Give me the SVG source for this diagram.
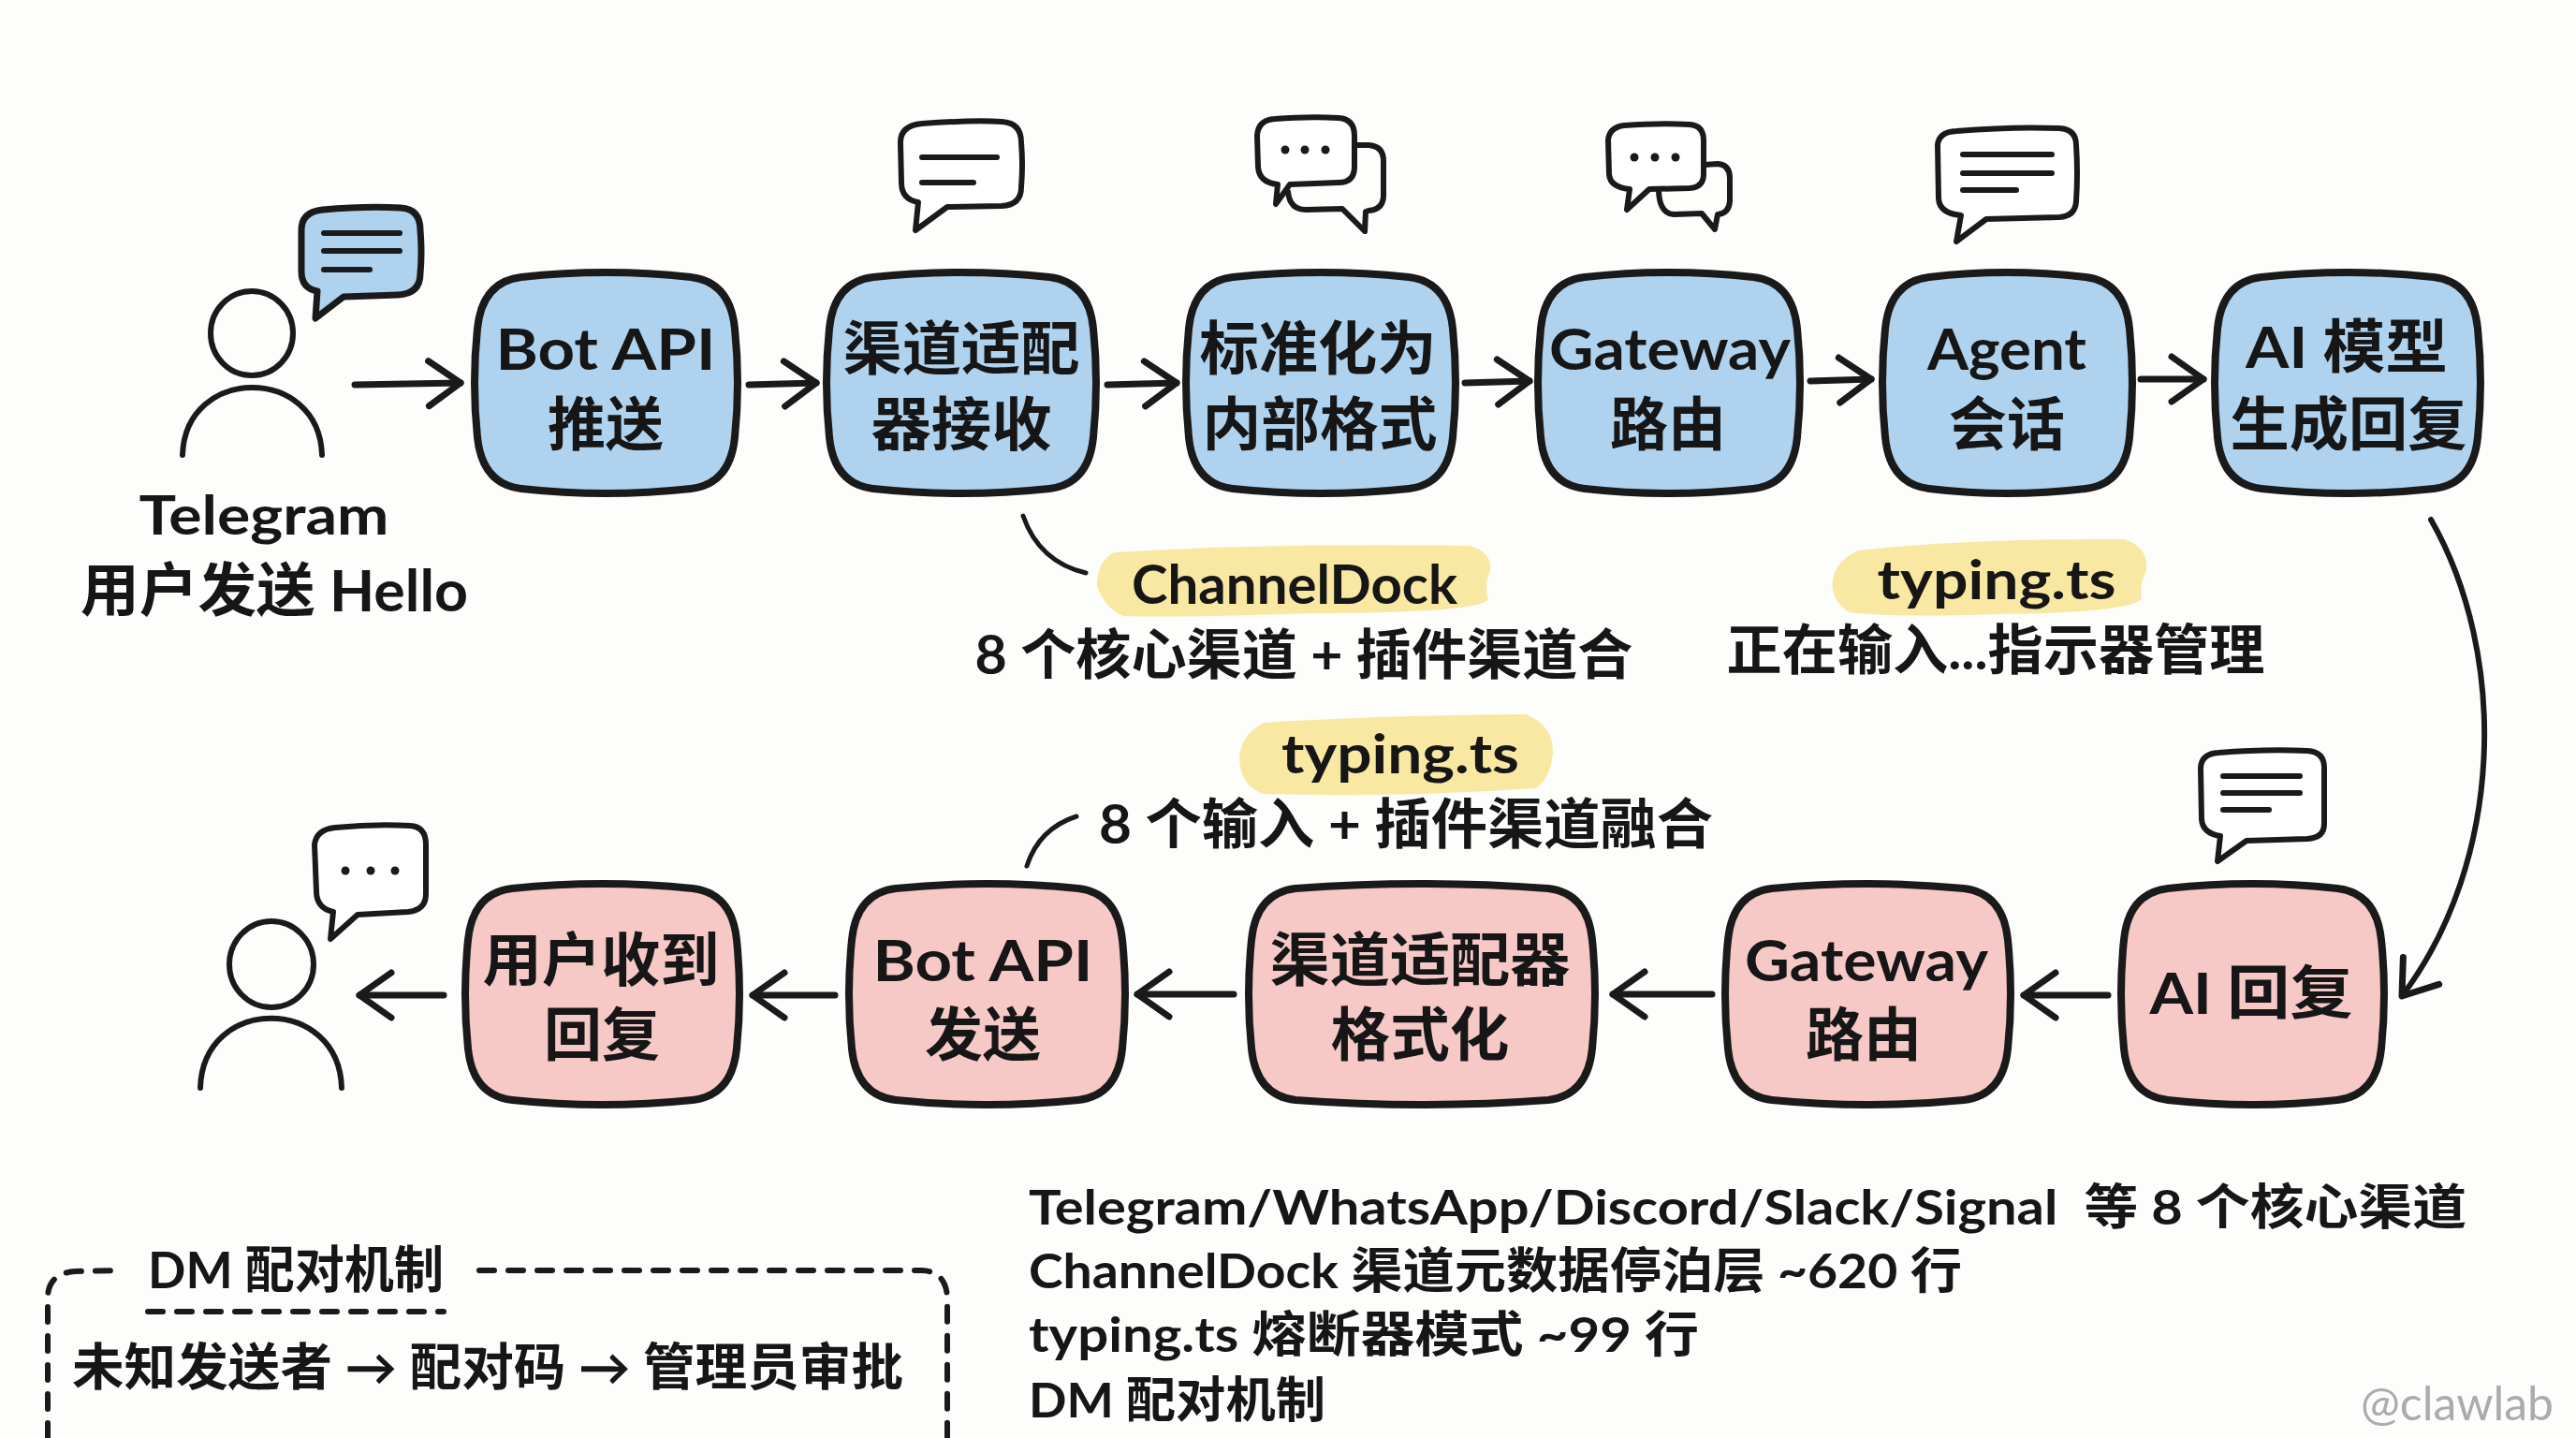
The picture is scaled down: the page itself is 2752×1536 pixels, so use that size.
<svg xmlns="http://www.w3.org/2000/svg" width="2752" height="1536" viewBox="0 0 2752 1536">
<style>
text{font-family:"Lato","Noto Sans CJK SC",sans-serif;font-weight:700;fill:#161616;text-anchor:middle}
.t{font-size:62px}
.s{font-size:58px}
.l{font-size:52px;text-anchor:start;white-space:pre}
.b{fill:#afd3ef;stroke:#1a1a1a;stroke-width:8;stroke-linejoin:round}
.p{fill:#f6c9c6;stroke:#1a1a1a;stroke-width:8;stroke-linejoin:round}
.y{fill:#f9e8a2}
.i{fill:none;stroke:#1a1a1a;stroke-width:6;stroke-linecap:round;stroke-linejoin:round}
.w{fill:#fff;stroke:#1a1a1a;stroke-width:6;stroke-linejoin:round}
.c{fill:none;stroke:#1a1a1a;stroke-width:7;stroke-linecap:round}
.a{marker-end:url(#h)}
.d{fill:none;stroke:#1a1a1a;stroke-width:6;stroke-linecap:round;stroke-dasharray:16 15}
.dot{fill:#1a1a1a}
</style>
<defs>
<marker id="h" markerUnits="userSpaceOnUse" markerWidth="60" markerHeight="80" refX="44" refY="36" orient="auto" viewBox="0 0 60 80"><path d="M10 12L44 36L10 60" fill="none" stroke="#1a1a1a" stroke-width="7" stroke-linecap="round" stroke-linejoin="round"/></marker>
</defs>
<rect width="2752" height="1536" fill="#fdfdfc"/>

<g id="connectors">
<path class="c a" d="M379 411L492 409"/>
<path class="c a" d="M800 411L872 409"/>
<path class="c a" d="M1183 411L1257 409"/>
<path class="c a" d="M1565 409L1634 407"/>
<path class="c a" d="M1934 407L1999 405"/>
<path class="c a" d="M2287 405L2354 405"/>
<path class="c" style="stroke-width:6;marker-end:url(#h)" d="M2597 555C2680 700 2675 920 2566 1064"/>
<path class="c a" d="M2252 1063L2162 1063"/>
<path class="c a" d="M1829 1062L1723 1062"/>
<path class="c a" d="M1318 1062L1215 1062"/>
<path class="c a" d="M892 1063L804 1063"/>
<path class="c a" d="M474 1063L384 1063"/>
<path class="c" style="stroke-width:5" d="M1093 551Q1110 600 1160 612"/>
<path class="c" style="stroke-width:5" d="M1097 925Q1110 885 1150 872"/>
</g>

<g id="user-top">
<ellipse class="i" cx="269" cy="356" rx="44" ry="45"/>
<path class="i" d="M195 486C198 390 341 390 344 486"/>
<path d="M345 224Q390 220 428 222Q449 223 449 246Q451 270 449 292Q449 314 425 315L367 317L337 340L339 311Q322 308 322 290L322 246Q322 226 345 224Z" fill="#afd3ef" stroke="#1a1a1a" stroke-width="7" stroke-linejoin="round"/>
<path class="i" d="M346 249H427M346 268H427M346 288H395"/>
<text class="s" x="282" y="571" textLength="267" lengthAdjust="spacingAndGlyphs">Telegram</text>
<text class="t" x="293" y="653" textLength="414" lengthAdjust="spacingAndGlyphs">用户发送 Hello</text>
</g>

<g id="n-botapi-in">
<path class="b" d="M557 296Q647 286 738 296Q780 301 785 351Q791 409 785 467Q780 517 738 522Q647 532 557 522Q515 517 510 467Q504 409 510 351Q515 301 557 296Z"/>
<text class="t" x="647" y="395" textLength="235" lengthAdjust="spacingAndGlyphs">Bot API</text>
<text class="t" x="647" y="476">推送</text>
</g>
<g id="n-adapter-in">
<path class="b" d="M933 296Q1027 286 1121 296Q1163 301 1168 351Q1174 409 1168 467Q1163 517 1121 522Q1027 532 933 522Q891 517 886 467Q880 409 886 351Q891 301 933 296Z"/>
<text class="t" x="1027" y="395" textLength="253" lengthAdjust="spacingAndGlyphs">渠道适配</text>
<text class="t" x="1027" y="476" textLength="193" lengthAdjust="spacingAndGlyphs">器接收</text>
<path class="w" d="M985 132Q1040 128 1070 130Q1091 131 1091 152Q1093 176 1091 200Q1091 219 1070 220L1012 221L978 246L981 216Q963 213 963 195L962 152Q962 134 985 132Z"/>
<path class="i" d="M985 168H1065M985 195H1040"/>
</g>
<g id="n-normalize">
<path class="b" d="M1317 296Q1411 286 1505 296Q1547 301 1552 351Q1558 409 1552 467Q1547 517 1505 522Q1411 532 1317 522Q1275 517 1270 467Q1264 409 1270 351Q1275 301 1317 296Z"/>
<text class="t" x="1408" y="395" textLength="253" lengthAdjust="spacingAndGlyphs">标准化为</text>
<text class="t" x="1410" y="476" textLength="251" lengthAdjust="spacingAndGlyphs">内部格式</text>
<path class="i" d="M1448 155L1462 155Q1478 156 1478 172L1478 210Q1477 224 1462 225L1459 226L1458 247L1434 223L1395 224Q1378 224 1376 205"/>
<path class="w" d="M1362 127Q1400 124 1430 126Q1447 127 1447 145L1447 178Q1447 195 1430 195L1378 197L1363 218L1365 197Q1345 195 1344 178L1343 145Q1344 128 1362 127Z"/>
<circle class="dot" cx="1373" cy="160" r="4.5"/><circle class="dot" cx="1394" cy="160" r="4.5"/><circle class="dot" cx="1416" cy="160" r="4.5"/>
</g>
<g id="n-gateway-in">
<path class="b" d="M1693 296Q1783 286 1873 296Q1915 301 1920 351Q1926 409 1920 467Q1915 517 1873 522Q1783 532 1693 522Q1651 517 1646 467Q1640 409 1646 351Q1651 301 1693 296Z"/>
<text class="t" x="1784" y="395" textLength="258" lengthAdjust="spacingAndGlyphs">Gateway</text>
<text class="t" x="1782" y="476">路由</text>
<path class="i" d="M1821 176L1835 175Q1848 176 1848 190L1848 215Q1847 228 1835 229L1832 245L1818 228L1788 229Q1773 228 1772 204"/>
<path class="w" d="M1735 134Q1775 131 1805 133Q1820 134 1820 150L1820 186Q1820 200 1805 201L1762 202L1738 224L1741 202Q1720 200 1719 186L1718 150Q1719 136 1735 134Z"/>
<circle class="dot" cx="1746" cy="168" r="4.5"/><circle class="dot" cx="1768" cy="168" r="4.5"/><circle class="dot" cx="1790" cy="168" r="4.5"/>
</g>
<g id="n-agent">
<path class="b" d="M2061 296Q2144 286 2228 296Q2270 301 2275 351Q2281 409 2275 467Q2270 517 2228 522Q2144 532 2061 522Q2019 517 2014 467Q2008 409 2014 351Q2019 301 2061 296Z"/>
<text class="t" x="2144" y="395" textLength="170" lengthAdjust="spacingAndGlyphs">Agent</text>
<text class="t" x="2144" y="476">会话</text>
<path class="w" d="M2090 140Q2150 135 2200 137Q2218 138 2218 155Q2220 185 2218 215Q2217 231 2200 232L2122 234L2090 258L2095 230Q2072 228 2071 212L2070 155Q2071 141 2090 140Z"/>
<path class="i" d="M2097 165H2192M2097 185H2192M2097 203H2154"/>
</g>
<g id="n-model">
<path class="b" d="M2416 296Q2508 286 2600 296Q2642 301 2647 351Q2653 409 2647 467Q2642 517 2600 522Q2508 532 2416 522Q2374 517 2369 467Q2363 409 2369 351Q2374 301 2416 296Z"/>
<text class="t" x="2507" y="393" textLength="216" lengthAdjust="spacingAndGlyphs">AI 模型</text>
<text class="t" x="2509" y="476" textLength="253" lengthAdjust="spacingAndGlyphs">生成回复</text>
</g>

<g id="note-channeldock">
<path class="y" d="M1190 590Q1350 580 1570 583Q1595 590 1592 610Q1585 625 1590 640Q1580 655 1400 655Q1260 660 1200 658Q1180 650 1172 625Q1172 600 1190 590Z"/>
<text class="s" x="1383" y="645" textLength="348" lengthAdjust="spacingAndGlyphs">ChannelDock</text>
<text class="s" x="1393" y="720" textLength="703" lengthAdjust="spacingAndGlyphs">8 个核心渠道 + 插件渠道合</text>
</g>
<g id="note-typing-in">
<path class="y" d="M1985 588Q2100 575 2270 576Q2296 585 2293 610Q2285 625 2288 640Q2270 655 2130 656Q2030 660 1975 654Q1955 640 1958 620Q1960 600 1985 588Z"/>
<text class="s" x="2133" y="640" textLength="255" lengthAdjust="spacingAndGlyphs">typing.ts</text>
<text class="s" x="2132" y="715" textLength="575" lengthAdjust="spacingAndGlyphs">正在输入...指示器管理</text>
</g>
<g id="note-typing-out">
<path class="y" d="M1350 772Q1480 764 1630 763Q1660 775 1659 805Q1655 835 1640 842Q1500 852 1350 848Q1325 840 1324 810Q1325 785 1350 772Z"/>
<text class="s" x="1496" y="826" textLength="254" lengthAdjust="spacingAndGlyphs">typing.ts</text>
<text class="s" x="1502" y="901" textLength="656" lengthAdjust="spacingAndGlyphs">8 个输入 + 插件渠道融合</text>
</g>

<g id="n-reply">
<path class="p" d="M2316 949Q2406 939 2497 949Q2539 954 2544 1004Q2550 1062 2544 1120Q2539 1170 2497 1175Q2406 1185 2316 1175Q2274 1170 2269 1120Q2263 1062 2269 1004Q2274 954 2316 949Z"/>
<text class="t" x="2405" y="1083" textLength="217" lengthAdjust="spacingAndGlyphs">AI 回复</text>
<path class="w" d="M2370 804Q2420 800 2465 802Q2483 803 2483 820L2483 880Q2483 895 2465 896L2400 898L2369 920L2372 893Q2353 890 2352 875L2351 820Q2352 805 2370 804Z"/>
<path class="i" d="M2375 829H2457M2375 847H2457M2375 865H2424"/>
</g>
<g id="n-gateway-out">
<path class="p" d="M1893 949Q1995 939 2098 949Q2140 954 2145 1004Q2151 1062 2145 1120Q2140 1170 2098 1175Q1995 1185 1893 1175Q1851 1170 1846 1120Q1840 1062 1846 1004Q1851 954 1893 949Z"/>
<text class="t" x="1994" y="1048" textLength="260" lengthAdjust="spacingAndGlyphs">Gateway</text>
<text class="t" x="1991" y="1128">路由</text>
</g>
<g id="n-adapter-out">
<path class="p" d="M1384 949Q1519 939 1654 949Q1696 954 1701 1004Q1707 1062 1701 1120Q1696 1170 1654 1175Q1519 1185 1384 1175Q1342 1170 1337 1120Q1331 1062 1337 1004Q1342 954 1384 949Z"/>
<text class="t" x="1517" y="1048" textLength="321" lengthAdjust="spacingAndGlyphs">渠道适配器</text>
<text class="t" x="1517" y="1128" textLength="191" lengthAdjust="spacingAndGlyphs">格式化</text>
</g>
<g id="n-botapi-out">
<path class="p" d="M957 949Q1054 939 1152 949Q1194 954 1199 1004Q1205 1062 1199 1120Q1194 1170 1152 1175Q1054 1185 957 1175Q915 1170 910 1120Q904 1062 910 1004Q915 954 957 949Z"/>
<text class="t" x="1050" y="1048" textLength="235" lengthAdjust="spacingAndGlyphs">Bot API</text>
<text class="t" x="1050" y="1128">发送</text>
</g>
<g id="n-received">
<path class="p" d="M547 949Q643 939 740 949Q782 954 787 1004Q793 1062 787 1120Q782 1170 740 1175Q643 1185 547 1175Q505 1170 500 1120Q494 1062 500 1004Q505 954 547 949Z"/>
<text class="t" x="642" y="1048" textLength="253" lengthAdjust="spacingAndGlyphs">用户收到</text>
<text class="t" x="643" y="1128">回复</text>
</g>

<g id="user-bottom">
<ellipse class="i" cx="290" cy="1030" rx="45" ry="46"/>
<path class="i" d="M214 1162C217 1063 362 1063 365 1162"/>
<path class="w" d="M358 884Q400 880 438 882Q455 883 455 902L455 955Q455 972 436 974L382 977L353 1003L356 974Q338 970 338 952L336 902Q338 886 358 884Z"/>
<circle class="dot" cx="369" cy="930" r="4.5"/><circle class="dot" cx="396" cy="930" r="4.5"/><circle class="dot" cx="422" cy="930" r="4.5"/>
</g>

<g id="dm-box">
<path class="d" d="M51 1536L51 1385Q52 1360 80 1358L130 1357"/>
<path class="d" d="M512 1357L985 1357Q1010 1358 1012 1385L1012 1536"/>
<text x="316" y="1376" font-size="54" textLength="316" lengthAdjust="spacingAndGlyphs">DM 配对机制</text>
<path class="d" d="M158 1401H474"/>
<text x="521" y="1480" font-size="54" textLength="888" lengthAdjust="spacingAndGlyphs">未知发送者 → 配对码 → 管理员审批</text>
</g>

<g id="summary">
<text class="l" x="1099" y="1308" textLength="1536" lengthAdjust="spacingAndGlyphs">Telegram/WhatsApp/Discord/Slack/Signal  等 8 个核心渠道</text>
<text class="l" x="1099" y="1376" textLength="997" lengthAdjust="spacingAndGlyphs">ChannelDock 渠道元数据停泊层 ~620 行</text>
<text class="l" x="1099" y="1444" textLength="716" lengthAdjust="spacingAndGlyphs">typing.ts 熔断器模式 ~99 行</text>
<text class="l" x="1099" y="1514" textLength="317" lengthAdjust="spacingAndGlyphs">DM 配对机制</text>
</g>
<text x="2625" y="1517" font-size="50" style="fill:#ababab;font-weight:400" textLength="206" lengthAdjust="spacingAndGlyphs">@clawlab</text>
</svg>
